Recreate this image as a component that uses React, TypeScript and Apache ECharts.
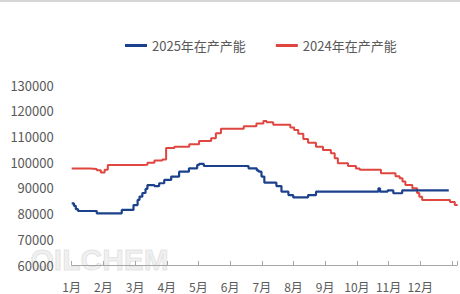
import React, { useEffect, useRef } from "react";
import * as echarts from "echarts";

// month position (0 = 1月1日) and capacity value; step points
const series2025Name = "2025年在产产能";
const series2024Name = "2024年在产产能";
const monthLabels = ["1月", "2月", "3月", "4月", "5月", "6月", "7月", "8月", "9月", "10月", "11月", "12月"];
const yTicks = [60000, 130000, 10000];

const data2025: [number, number][] = [
  [0.0, 84000], [0.07, 83000], [0.13, 81700], [0.2, 81000], [0.79, 80100],
  [1.58, 81400], [1.95, 83300], [2.08, 85300], [2.14, 86600], [2.23, 88000],
  [2.33, 89600], [2.39, 91100], [2.61, 90700], [2.76, 91800], [2.92, 93100],
  [3.14, 94400], [3.39, 96300], [3.7, 97600], [3.96, 98900], [4.02, 99300],
  [4.17, 98500], [5.58, 97600], [5.84, 96800], [5.9, 96300], [5.99, 94400],
  [6.08, 92000], [6.46, 90700], [6.62, 88500], [6.84, 87200], [6.99, 86300],
  [7.46, 87200], [7.71, 88500], [9.68, 89800], [9.73, 88500], [9.97, 89000],
  [10.15, 87900], [10.43, 89000], [11.9, 89000],
];

const data2024: [number, number][] = [
  [0.0, 97500], [0.57, 97300], [0.79, 96800], [0.92, 96000], [1.04, 97000],
  [1.14, 98900], [2.24, 99000], [2.39, 99800], [2.61, 100600], [2.86, 101000],
  [2.98, 105500], [3.24, 106000], [3.71, 107000], [4.02, 108250], [4.4, 109300],
  [4.55, 111200], [4.71, 113000], [5.43, 114000], [5.83, 115000], [6.05, 116000],
  [6.15, 115500], [6.36, 114500], [6.9, 113500], [7.02, 112500], [7.15, 111000],
  [7.31, 109000], [7.46, 107500], [7.71, 106000], [7.93, 104700], [8.18, 103500],
  [8.3, 101500], [8.4, 99600], [8.72, 98500], [8.97, 97500], [9.09, 97000],
  [9.76, 95700], [10.22, 94500], [10.35, 93700], [10.44, 92500], [10.53, 91100],
  [10.75, 89800], [10.9, 88000], [10.97, 86500], [11.06, 85300], [11.94, 84500],
  [12.09, 83300], [12.16, 83000],
];

const font = '"Microsoft YaHei","Noto Sans CJK SC","Noto Sans",sans-serif';

export default function App() {
  const ref = useRef<HTMLDivElement>(null);
  useEffect(() => {
    if (!ref.current) return;
    const chart = echarts.init(ref.current, undefined, { renderer: "svg" });
    chart.setOption({
      animation: false,
      backgroundColor: "#ffffff",
      textStyle: { fontFamily: font },
      graphic: [
        {
          type: "line",
          shape: { x1: 0, y1: 1, x2: 460, y2: 1 },
          style: { stroke: "#c8c8c8", lineWidth: 1.5 },
          z: 0,
        },
        {
          type: "text",
          left: 30,
          top: 244,
          z: 0,
          style: {
            text: "OILCHEM",
            fontSize: 30,
            lineHeight: 24,
            fontWeight: "bold",
            fontFamily: "Liberation Sans, Arial, sans-serif",
            fill: "rgba(205,205,205,0.3)",
            stroke: "rgba(175,175,175,0.3)",
            lineWidth: 1,
          },
        },
      ],
      legend: {
        top: 34,
        left: 120,
        itemWidth: 22,
        itemHeight: 3,
        itemGap: 30,
        icon: "rect",
        textStyle: { color: "#595959", fontSize: 13, fontFamily: font },
        data: [series2025Name, series2024Name],
      },
      grid: { left: 71.7, right: 0, top: 85, bottom: 29, containLabel: false },
      xAxis: {
        type: "value",
        min: 0,
        max: 12.16,
        interval: 1,
        axisLine: { show: true, lineStyle: { color: "#a6a6a6", width: 1 } },
        axisTick: { show: true, inside: true, length: 4, lineStyle: { color: "#a6a6a6" } },
        splitLine: { show: false },
        axisLabel: {
          color: "#595959",
          fontSize: 12,
          margin: 15,
          fontFamily: font,
          formatter: (v: number) => {
            const i = Math.round(v);
            return Math.abs(v - i) < 1e-6 && i >= 0 && i < monthLabels.length ? monthLabels[i] : "";
          },
        },
      },
      yAxis: {
        type: "value",
        min: yTicks[0],
        max: yTicks[1],
        interval: yTicks[2],
        axisLine: { show: false },
        axisTick: { show: false },
        splitLine: { show: false },
        axisLabel: {
          color: "#595959",
          fontSize: 13,
          margin: 18,
          fontFamily: font,
          formatter: (v: number) => String(v),
        },
      },
      series: [
        {
          name: series2025Name,
          type: "line",
          step: "end",
          data: data2025,
          showSymbol: false,
          symbol: "none",
          lineStyle: { color: "#1b418c", width: 2.2 },
          itemStyle: { color: "#1b418c" },
          z: 3,
        },
        {
          name: series2024Name,
          type: "line",
          step: "end",
          data: data2024,
          showSymbol: false,
          symbol: "none",
          lineStyle: { color: "#e0453f", width: 2 },
          itemStyle: { color: "#e0453f" },
          z: 2,
        },
      ],
    });
    return () => chart.dispose();
  }, []);
  return (
    <div
      ref={ref}
      style={{ position: "absolute", left: 0, top: 0, width: 460, height: 294, background: "#fff" }}
    />
  );
}
